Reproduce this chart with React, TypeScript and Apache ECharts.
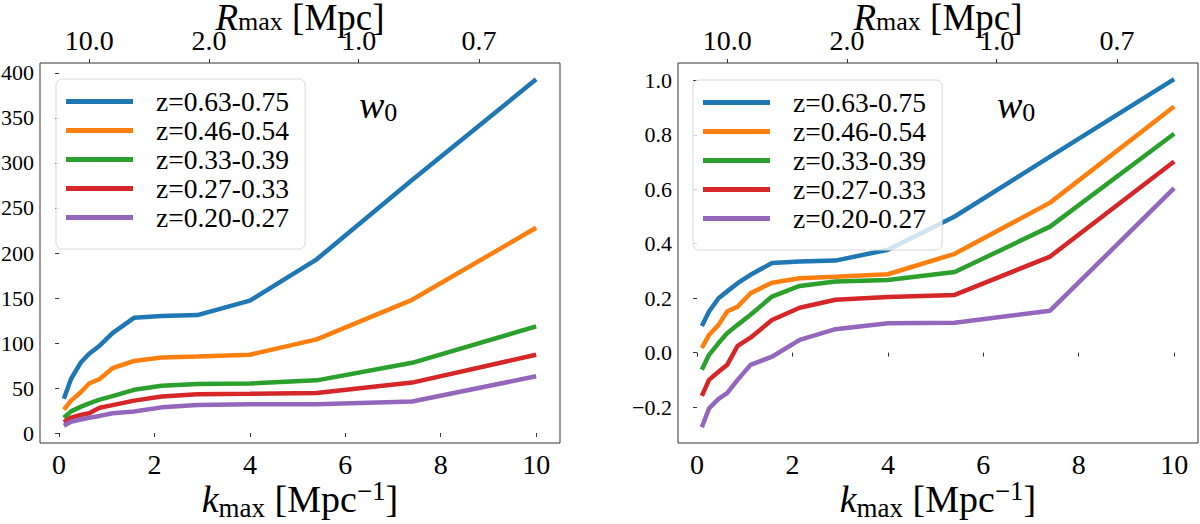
import { useEffect, useRef } from 'react';
import * as echarts from 'echarts';

const SERIF = 'Liberation Serif, Times New Roman, serif';

const kmax = [0.1, 0.25, 0.45, 0.63, 0.85, 1.12, 1.57, 2.15, 2.9, 4.0, 5.4, 7.4, 10.0];

const zBins = ['z=0.63-0.75', 'z=0.46-0.54', 'z=0.33-0.39', 'z=0.27-0.33', 'z=0.20-0.27'];
const colors = ['#1f77b4', '#ff7f0e', '#2ca02c', '#d62728', '#9467bd'];

// left panel
const leftBlue = [38, 60, 78, 88, 97, 111, 128, 130, 131, 147, 193, 281, 393];
const leftOrange = [26, 36, 45, 55, 60, 72, 80, 84, 85, 87, 104, 148, 228];
const leftGreen = [17, 24, 29, 33, 37, 41, 48, 52.5, 54.5, 55, 58.5, 78, 118.5];
const leftRed = [12, 17, 20, 22, 28, 31, 36, 40.5, 43, 43.5, 44.5, 56, 87];
const leftPurple = [8, 12.5, 15, 17, 19, 22, 24, 28.5, 31, 32, 32, 35, 63];

// right panel
const rightBlue = [0.098, 0.151, 0.2, 0.225, 0.255, 0.286, 0.329, 0.335, 0.338, 0.378, 0.5, 0.72, 1.005];
const rightOrange = [0.017, 0.065, 0.102, 0.151, 0.169, 0.218, 0.257, 0.273, 0.279, 0.288, 0.363, 0.551, 0.904];
const rightGreen = [-0.063, -0.008, 0.035, 0.071, 0.102, 0.139, 0.206, 0.245, 0.261, 0.267, 0.296, 0.463, 0.804];
const rightRed = [-0.159, -0.1, -0.07, -0.045, 0.025, 0.055, 0.12, 0.165, 0.194, 0.204, 0.212, 0.353, 0.702];
const rightPurple = [-0.274, -0.205, -0.17, -0.149, -0.1, -0.045, -0.015, 0.047, 0.086, 0.108, 0.11, 0.154, 0.604];

const xTicks = [0, 2, 4, 6, 8, 10];
const leftYTicks = [0, 50, 100, 150, 200, 250, 300, 350, 400];
const rightYTicks = [-0.2, 0, 0.2, 0.4, 0.6, 0.8, 1.0];
const topTicksK = [0.63, 3.14, 6.28, 8.8];
const topTickLabels = ['10.0', '2.0', '1.0', '0.7'];

const leftSets = [leftBlue, leftOrange, leftGreen, leftRed, leftPurple];
const rightSets = [rightBlue, rightOrange, rightGreen, rightRed, rightPurple];

const AXIS_COLOR = '#333';

const bottomAxis = (gridIndex: number) => ({
  type: 'value',
  gridIndex,
  position: 'bottom',
  min: -0.4,
  max: 10.5,
  axisLine: { show: false },
  splitLine: { show: false },
  axisTick: { show: true, length: 4, lineStyle: { color: AXIS_COLOR }, customValues: xTicks },
  axisLabel: { fontFamily: SERIF, fontSize: 28, color: '#000', margin: 7, customValues: xTicks },
  name: '{k|k}{sub|max} [Mpc{sup|−1}]',
  nameLocation: 'middle',
  nameGap: 34,
  nameMoveOverlap: false,
  nameTextStyle: {
    fontFamily: SERIF,
    fontSize: 38,
    color: '#000',
    lineHeight: 44,
    rich: {
      k: { fontFamily: SERIF, fontStyle: 'italic', fontSize: 38, color: '#000', lineHeight: 44 },
      sub: { fontFamily: SERIF, fontSize: 27, color: '#000', verticalAlign: 'bottom', lineHeight: 28 },
      sup: { fontFamily: SERIF, fontSize: 27, color: '#000', verticalAlign: 'top', lineHeight: 28 },
    },
  },
});

const topAxis = (gridIndex: number) => ({
  type: 'value',
  gridIndex,
  position: 'top',
  min: -0.4,
  max: 10.5,
  axisLine: { show: false },
  splitLine: { show: false },
  axisTick: { show: true, length: 4, lineStyle: { color: AXIS_COLOR }, customValues: topTicksK },
  axisLabel: {
    fontFamily: SERIF,
    fontSize: 28,
    color: '#000',
    margin: 9,
    customValues: topTicksK,
    formatter: (v: number) => topTickLabels[topTicksK.indexOf(v)] ?? '',
  },
  name: '{r|R}{sub|max} [Mpc]',
  nameLocation: 'middle',
  nameGap: 29,
  nameMoveOverlap: false,
  nameTextStyle: {
    fontFamily: SERIF,
    fontSize: 37,
    color: '#000',
    lineHeight: 34,
    rich: {
      r: { fontFamily: SERIF, fontStyle: 'italic', fontSize: 37, color: '#000', lineHeight: 34 },
      sub: { fontFamily: SERIF, fontSize: 26, color: '#000', verticalAlign: 'bottom', lineHeight: 22 },
    },
  },
});

const yAxis = (gridIndex: number, min: number, max: number, ticks: number[], fmt: (v: number) => string) => ({
  type: 'value',
  gridIndex,
  min,
  max,
  axisLine: { show: false },
  splitLine: { show: false },
  axisTick: { show: true, length: 4, lineStyle: { color: AXIS_COLOR }, customValues: ticks },
  axisLabel: { fontFamily: SERIF, fontSize: 22, color: '#000', margin: 6, customValues: ticks, formatter: fmt },
});

const legend = (left: number, top: number) => ({
  orient: 'vertical',
  left,
  top,
  z: 10,
  data: zBins,
  icon: 'rect',
  itemWidth: 67,
  itemHeight: 5,
  itemGap: 0,
  padding: [8, 16, 17, 10],
  backgroundColor: 'rgba(255,255,255,0.8)',
  borderColor: '#d8d8d8',
  borderWidth: 1,
  borderRadius: 6,
  selectedMode: false,
  textStyle: { fontFamily: SERIF, fontSize: 27.5, color: '#000', lineHeight: 29, padding: [0, 0, 0, 18] },
});

const w0Title = (left: number) => ({
  text: '{w|w}{s|0}',
  left,
  top: 80,
  textStyle: {
    fontWeight: 'normal',
    rich: {
      w: { fontFamily: SERIF, fontStyle: 'italic', fontWeight: 'normal', fontSize: 38, color: '#000', lineHeight: 40 },
      s: { fontFamily: SERIF, fontWeight: 'normal', fontSize: 26, color: '#000', verticalAlign: 'bottom', lineHeight: 22 },
    },
  },
});

const App = () => {
  const chartRef = useRef<HTMLDivElement>(null);

  useEffect(() => {
    if (!chartRef.current) return;
    const chart = echarts.init(chartRef.current, null, { renderer: 'svg' });

    const series: any[] = [];
    leftSets.forEach((vals, i) => {
      series.push({
        name: zBins[i],
        type: 'line',
        xAxisIndex: 0,
        yAxisIndex: 0,
        showSymbol: false,
        symbol: 'none',
        z: 2 + i,
        lineStyle: { width: 4.5, color: colors[i] },
        itemStyle: { color: colors[i] },
        data: kmax.map((k, j) => [k, vals[j]]),
      });
    });
    rightSets.forEach((vals, i) => {
      series.push({
        name: zBins[i],
        type: 'line',
        xAxisIndex: 2,
        yAxisIndex: 1,
        showSymbol: false,
        symbol: 'none',
        z: 2 + i,
        lineStyle: { width: 4.5, color: colors[i] },
        itemStyle: { color: colors[i] },
        data: kmax.map((k, j) => [k, vals[j]]),
      });
    });

    const gridBase = { top: 63, bottom: 81, show: true, borderColor: AXIS_COLOR, borderWidth: 1, backgroundColor: 'transparent', outerBoundsMode: 'none', containLabel: false };

    const option = {
      animation: false,
      backgroundColor: '#fff',
      title: [w0Title(354), w0Title(992)],
      legend: [legend(56, 79), legend(693, 80)],
      grid: [
        { ...gridBase, left: 40, right: 640 },
        { ...gridBase, left: 678, right: 2 },
      ],
      xAxis: [bottomAxis(0), topAxis(0), bottomAxis(1), topAxis(1)],
      yAxis: [
        yAxis(0, -11.1, 411.1, leftYTicks, (v: number) => String(Math.round(v))),
        yAxis(1, -0.332, 1.064, rightYTicks, (v: number) => (v < 0 ? '−' : '') + Math.abs(v).toFixed(1)),
      ],
      series,
    };

    chart.setOption(option);
    return () => {
      chart.dispose();
    };
  }, []);

  return <div ref={chartRef} style={{ position: 'absolute', left: 0, top: 0, width: '1200px', height: '524px' }} />;
};

export default App;
